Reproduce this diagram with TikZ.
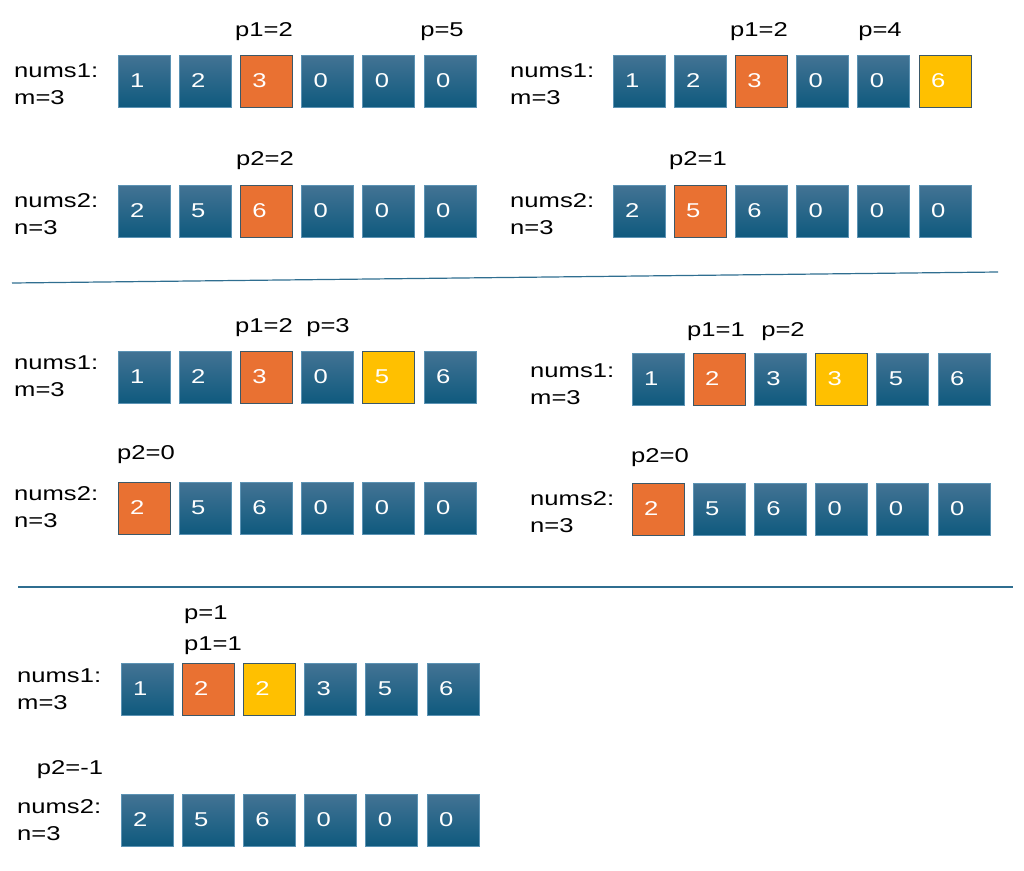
\documentclass[tikz,border=0pt]{standalone}
\usepackage{fontspec}
\setmainfont{Liberation Sans}[FakeStretch=1.28]
\usepackage{xcolor}

\definecolor{celltop}{HTML}{437394}
\definecolor{cellbot}{HTML}{0F5A7E}
\definecolor{cellline}{HTML}{5C93B4}
\definecolor{hotfill}{HTML}{E97132}
\definecolor{newfill}{HTML}{FFC000}
\definecolor{darkline}{HTML}{3B5868}
\definecolor{sepline}{HTML}{2F6E90}

\begin{document}
\begin{tikzpicture}[
  x=1pt, y=-1pt,
  sq/.style={line width=0.8pt, text=white, minimum height=52pt, inner xsep=12pt, text width=28pt, align=left, font=\fontsize{20}{24}\selectfont},
  cell/.style={sq, draw=cellline, top color=celltop, bottom color=cellbot},
  hot/.style={sq, draw=darkline, fill=hotfill},
  new/.style={sq, draw=darkline, fill=newfill},
  lab/.style={inner sep=0pt, align=left, font=\fontsize{20}{27.5}\selectfont},
  sep/.style={draw=sepline, line width=1.2pt}
]
\useasboundingbox (0,0) rectangle (1024,870);

% step 1: p1=2, p2=2, p=5
\node[lab, anchor=base west] (a1name) at (14,104.5) {nums1:\\m=3};
\node[lab, anchor=base west] (a2name) at (14,234.5) {nums2:\\n=3};
\foreach \s/\v [count=\i] in {cell/1,cell/2,hot/3,cell/0,cell/0,cell/0}
  \node[\s] (a1-\i) at ({144+61.2*(\i-1)},81) {\v};
\foreach \s/\v [count=\i] in {cell/2,cell/5,hot/6,cell/0,cell/0,cell/0}
  \node[\s] (a2-\i) at ({144+61.2*(\i-1)},211) {\v};
\node[lab, anchor=base] (a1p1) at (264,36) {p1=2};
\node[lab, anchor=base] (a1p) at (442,36) {p=5};
\node[lab, anchor=base] (a2p2) at (265,165) {p2=2};

% step 2: p1=2, p2=1, p=4
\node[lab, anchor=base west] (b1name) at (510,104.5) {nums1:\\m=3};
\node[lab, anchor=base west] (b2name) at (510,234.5) {nums2:\\n=3};
\foreach \s/\v [count=\i] in {cell/1,cell/2,hot/3,cell/0,cell/0,new/6}
  \node[\s] (b1-\i) at ({639+61.2*(\i-1)},81) {\v};
\foreach \s/\v [count=\i] in {cell/2,hot/5,cell/6,cell/0,cell/0,cell/0}
  \node[\s] (b2-\i) at ({639+61.2*(\i-1)},211) {\v};
\node[lab, anchor=base] (b1p1) at (759,36) {p1=2};
\node[lab, anchor=base] (b1p) at (880,36) {p=4};
\node[lab, anchor=base] (b2p2) at (698,165) {p2=1};

\coordinate (s1a) at (12,283);
\coordinate (s1b) at (998,272);
\draw[sep] (s1a) -- (s1b);

% step 3: p1=2, p2=0, p=3
\node[lab, anchor=base west] (c1name) at (14,396.5) {nums1:\\m=3};
\node[lab, anchor=base west] (c2name) at (14,527.5) {nums2:\\n=3};
\foreach \s/\v [count=\i] in {cell/1,cell/2,hot/3,cell/0,new/5,cell/6}
  \node[\s] (c1-\i) at ({144+61.2*(\i-1)},377) {\v};
\foreach \s/\v [count=\i] in {hot/2,cell/5,cell/6,cell/0,cell/0,cell/0}
  \node[\s] (c2-\i) at ({144+61.2*(\i-1)},508) {\v};
\node[lab, anchor=base] (c1p1) at (264,332) {p1=2};
\node[lab, anchor=base] (c1p) at (328,332) {p=3};
\node[lab, anchor=base] (c2p2) at (146,459) {p2=0};

% step 4: p1=1, p2=0, p=2
\node[lab, anchor=base west] (d1name) at (530,404.5) {nums1:\\m=3};
\node[lab, anchor=base west] (d2name) at (530,532.5) {nums2:\\n=3};
\foreach \s/\v [count=\i] in {cell/1,hot/2,cell/3,new/3,cell/5,cell/6}
  \node[\s] (d1-\i) at ({658+61.2*(\i-1)},379) {\v};
\foreach \s/\v [count=\i] in {hot/2,cell/5,cell/6,cell/0,cell/0,cell/0}
  \node[\s] (d2-\i) at ({658+61.2*(\i-1)},509) {\v};
\node[lab, anchor=base] (d1p1) at (716,336) {p1=1};
\node[lab, anchor=base] (d1p) at (783,336) {p=2};
\node[lab, anchor=base] (d2p2) at (660,462) {p2=0};

\coordinate (s2a) at (18,587);
\coordinate (s2b) at (1013,587);
\draw[sep] (s2a) -- (s2b);

% step 5: p1=1, p2=-1, p=1
\node[lab, anchor=base west] (e1name) at (17,709.5) {nums1:\\m=3};
\node[lab, anchor=base west] (e2name) at (17,840.5) {nums2:\\n=3};
\foreach \s/\v [count=\i] in {cell/1,hot/2,new/2,cell/3,cell/5,cell/6}
  \node[\s] (e1-\i) at ({147+61.2*(\i-1)},689) {\v};
\foreach \s/\v [count=\i] in {cell/2,cell/5,cell/6,cell/0,cell/0,cell/0}
  \node[\s] (e2-\i) at ({147+61.2*(\i-1)},820) {\v};
\node[lab, anchor=base west] (e1p) at (184,619) {p=1};
\node[lab, anchor=base west] (e1p1) at (184,650) {p1=1};
\node[lab, anchor=base] (e2p2) at (70,774) {p2=-1};
\end{tikzpicture}
\end{document}
